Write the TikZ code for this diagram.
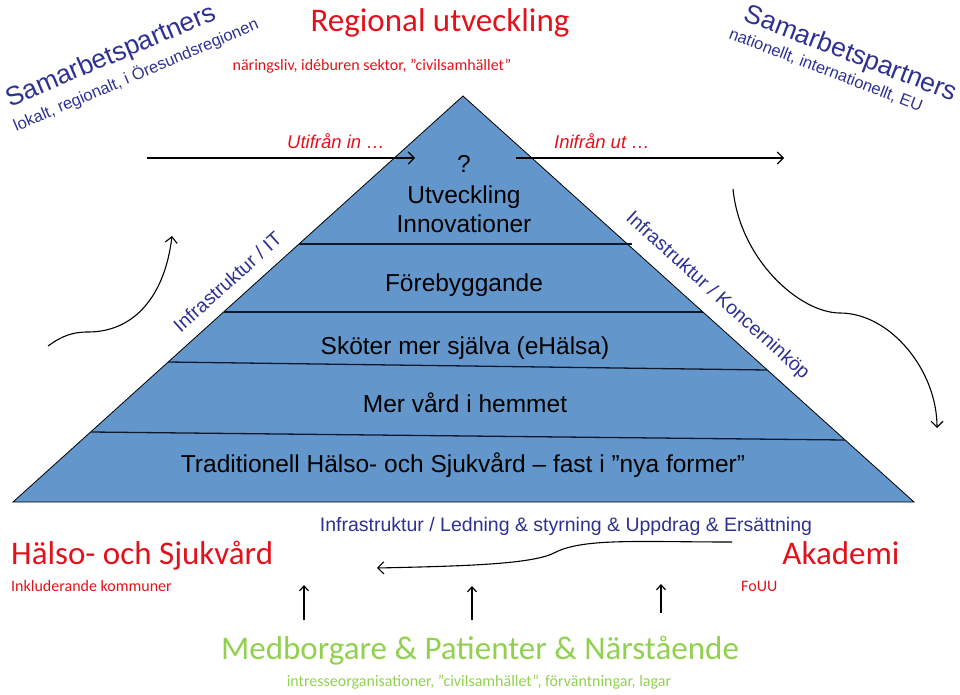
\documentclass[tikz,border=0pt]{standalone}
\usepackage{fontspec}
\setmainfont{Liberation Sans}
\newfontfamily\calib{Carlito}
\usetikzlibrary{arrows.meta}
\definecolor{trifill}{RGB}{99,151,204}
\definecolor{myred}{RGB}{226,18,28}
\definecolor{navy}{RGB}{46,49,146}
\definecolor{mygreen}{RGB}{146,208,80}
\definecolor{sepcol}{RGB}{15,25,45}
\tikzset{
  lbl/.style={inner sep=0pt, anchor=base},
  tritext/.style={lbl, text=black, font=\fontsize{24.5}{28}\selectfont},
  redbig/.style={lbl, text=myred, font=\calib\fontsize{33}{38}\selectfont},
  redsmall/.style={lbl, text=myred, font=\calib\fontsize{16}{19}\selectfont},
  reditalic/.style={lbl, text=myred, font=\itshape\fontsize{18.5}{22}\selectfont},
  bluetext/.style={lbl, text=navy, font=\fontsize{19.5}{23}\selectfont},
  partner/.style={lbl, text=navy, font=\fontsize{26.5}{30}\selectfont},
  partnersub/.style={lbl, text=navy, font=\fontsize{16.5}{20}\selectfont},
  greenbig/.style={lbl, text=mygreen, font=\calib\fontsize{33}{38}\selectfont},
  greensmall/.style={lbl, text=mygreen, font=\calib\fontsize{16}{19}\selectfont},
  arr/.style={draw=black, line width=1.1pt, -{Straight Barb[length=6pt,width=12pt]}},
  uparr/.style={draw=black, line width=1.2pt, -{Straight Barb[length=5pt,width=9pt]}},
  layersep/.style={draw=sepcol, line width=1.3pt},
  pyramid/.style={draw=black, line width=0.8pt, fill=trifill},
}
\begin{document}
\begin{tikzpicture}[x=1pt,y=-1pt]
\useasboundingbox (0,0) rectangle (960,695);

% pyramid
\coordinate (apex) at (463,96);
\coordinate (bl) at (13,502);
\coordinate (br) at (914,502);
\draw[pyramid] (apex) -- (bl) -- (br) -- cycle;

\coordinate (s1l) at (299,244); \coordinate (s1r) at (632,244);
\coordinate (s2l) at (224,312); \coordinate (s2r) at (703,312);
\coordinate (s3l) at (168,362); \coordinate (s3r) at (767,370);
\coordinate (s4l) at (91,432);  \coordinate (s4r) at (845,440);
\draw[layersep] (s1l) -- (s1r);
\draw[layersep] (s2l) -- (s2r);
\draw[layersep] (s3l) -- (s3r);
\draw[layersep] (s4l) -- (s4r);

% pyramid texts
\node[tritext] (q) at (464,173) {?};
\node[tritext] (utv) at (464,204) {Utveckling};
\node[tritext] (inn) at (464,232) {Innovationer};
\node[tritext] (fore) at (464,291) {Förebyggande};
\node[tritext] (skot) at (465,354) {Sköter mer själva (eHälsa)};
\node[tritext] (mer) at (465,412) {Mer vård i hemmet};
\node[tritext] (trad) at (463,472) {Traditionell Hälso- och Sjukvård – fast i ”nya former”};

% top texts
\node[redbig] (reg) at (440,31.5) {Regional utveckling};
\node[redsmall] (nar) at (372,71) {näringsliv, idéburen sektor, ”civilsamhället”};
\node[reditalic] (utif) at (336,149) {Utifrån in …};
\node[reditalic] (inif) at (602,149) {Inifrån ut …};

% partner texts
\node[partner, rotate=23] (sl1) at (114,63) {Samarbetspartners};
\node[partnersub, rotate=23] (sl2) at (138,80) {lokalt, regionalt, i Öresundsregionen};
\node[partner, rotate=-21] (sr1) at (848,61) {Samarbetspartners};
\node[partnersub, rotate=-21] (sr2) at (824,75) {nationellt, internationellt, EU};

% side labels
\node[bluetext, rotate=42] (infit) at (232,287) {Infrastruktur / IT};
\node[bluetext, rotate=-42] (infk) at (714,300) {Infrastruktur / Koncerninköp};

% horizontal arrows
\coordinate (h1s) at (147,158); \coordinate (h1e) at (415,158);
\coordinate (h2s) at (516,158); \coordinate (h2e) at (784,158);
\draw[arr] (h1s) -- (h1e);
\draw[arr] (h2s) -- (h2e);

% curved arrows
\coordinate (lcs) at (48,346); \coordinate (lcm) at (88,332); \coordinate (lce) at (172,236);
\draw[arr] (lcs) .. controls (62,336) and (72,332) .. (lcm) .. controls (135,332) and (165,295) .. (lce);
\coordinate (rcs) at (733,189); \coordinate (rcm) at (840,313); \coordinate (rce) at (937,428);
\draw[arr] (rcs) .. controls (740,260) and (800,313) .. (rcm) .. controls (890,313) and (937,370) .. (rce);

% bottom texts
\node[bluetext] (infl) at (566,531) {Infrastruktur / Ledning \& styrning \& Uppdrag \& Ersättning};
\node[redbig, anchor=base west] (hs) at (11,564) {Hälso- och Sjukvård};
\node[redbig] (aka) at (841,564) {Akademi};
\node[redsmall, anchor=base west] (ink) at (11,591) {Inkluderande kommuner};
\node[redsmall, anchor=base west] (fouu) at (741,591) {FoUU};
\node[greenbig] (med) at (480,659) {Medborgare \& Patienter \& Närstående};
\node[greensmall] (intr) at (479,686) {intresseorganisationer, ”civilsamhället”, förväntningar, lagar};

% bottom curved arrow
\coordinate (bcs) at (732,542); \coordinate (bcm) at (556,552); \coordinate (bce) at (377,568);
\draw[arr] (bcs) .. controls (640,542) and (585,538) .. (bcm) .. controls (535,564) and (470,566) .. (bce);

% up arrows
\coordinate (u1s) at (304,620); \coordinate (u1e) at (304,585);
\coordinate (u2s) at (472,620); \coordinate (u2e) at (472,586);
\coordinate (u3s) at (661,613); \coordinate (u3e) at (661,584);
\draw[uparr] (u1s) -- (u1e);
\draw[uparr] (u2s) -- (u2e);
\draw[uparr] (u3s) -- (u3e);
\end{tikzpicture}
\end{document}
